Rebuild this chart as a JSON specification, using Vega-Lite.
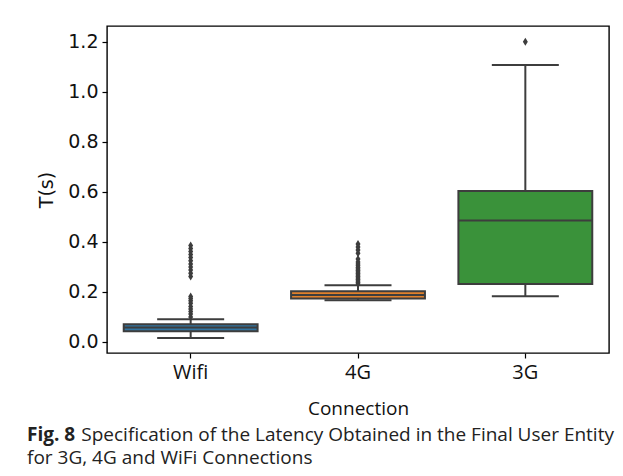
{
  "$schema": "https://vega.github.io/schema/vega-lite/v6.json",
  "width": 502,
  "height": 327,
  "autosize": {"type": "none"},
  "padding": {"left": 107, "top": 26, "right": 14, "bottom": 123},
  "background": "white",
  "title": {
    "text": "Fig. 8",
    "subtitle": [
      "\u200b\u00a0\u00a0\u00a0\u00a0\u00a0\u00a0\u00a0\u00a0\u00a0\u00a0\u00a0Specification of the Latency Obtained in the Final User Entity",
      "for 3G, 4G and WiFi Connections"
    ],
    "orient": "bottom",
    "anchor": "start",
    "frame": "group",
    "dx": -80,
    "offset": 8,
    "font": "Open Sans",
    "fontSize": 19,
    "fontWeight": "bold",
    "color": "#222222",
    "subtitleFont": "Open Sans",
    "subtitleFontSize": 19,
    "subtitleColor": "#222222",
    "subtitleLineHeight": 23,
    "subtitlePadding": -19
  },
  "datasets": {
    "stats": [
      {"conn": "Wifi", "lo": 0.016, "q1": 0.043, "median": 0.058, "q3": 0.071, "hi": 0.091},
      {"conn": "4G", "lo": 0.167, "q1": 0.174, "median": 0.188, "q3": 0.203, "hi": 0.227},
      {"conn": "3G", "lo": 0.183, "q1": 0.232, "median": 0.486, "q3": 0.604, "hi": 1.107}
    ],
    "fliers": [
      {"conn": "Wifi", "value": 0.100},
      {"conn": "Wifi", "value": 0.112},
      {"conn": "Wifi", "value": 0.122},
      {"conn": "Wifi", "value": 0.132},
      {"conn": "Wifi", "value": 0.142},
      {"conn": "Wifi", "value": 0.155},
      {"conn": "Wifi", "value": 0.165},
      {"conn": "Wifi", "value": 0.174},
      {"conn": "Wifi", "value": 0.182},
      {"conn": "Wifi", "value": 0.262},
      {"conn": "Wifi", "value": 0.275},
      {"conn": "Wifi", "value": 0.288},
      {"conn": "Wifi", "value": 0.300},
      {"conn": "Wifi", "value": 0.312},
      {"conn": "Wifi", "value": 0.325},
      {"conn": "Wifi", "value": 0.338},
      {"conn": "Wifi", "value": 0.350},
      {"conn": "Wifi", "value": 0.362},
      {"conn": "Wifi", "value": 0.374},
      {"conn": "Wifi", "value": 0.386},
      {"conn": "4G", "value": 0.232},
      {"conn": "4G", "value": 0.238},
      {"conn": "4G", "value": 0.244},
      {"conn": "4G", "value": 0.250},
      {"conn": "4G", "value": 0.256},
      {"conn": "4G", "value": 0.262},
      {"conn": "4G", "value": 0.268},
      {"conn": "4G", "value": 0.274},
      {"conn": "4G", "value": 0.280},
      {"conn": "4G", "value": 0.286},
      {"conn": "4G", "value": 0.292},
      {"conn": "4G", "value": 0.298},
      {"conn": "4G", "value": 0.305},
      {"conn": "4G", "value": 0.312},
      {"conn": "4G", "value": 0.320},
      {"conn": "4G", "value": 0.332},
      {"conn": "4G", "value": 0.355},
      {"conn": "4G", "value": 0.368},
      {"conn": "4G", "value": 0.380},
      {"conn": "4G", "value": 0.392},
      {"conn": "3G", "value": 1.200}
    ]
  },
  "encoding": {
    "x": {
      "field": "conn",
      "type": "nominal",
      "scale": {"type": "band", "domain": ["Wifi", "4G", "3G"], "paddingInner": 0, "paddingOuter": 0},
      "axis": {
        "title": "Connection",
        "labelAngle": 0,
        "labelFont": "Open Sans",
        "labelFontSize": 20,
        "labelColor": "#111111",
        "labelPadding": 4,
        "titleFont": "Open Sans",
        "titleFontSize": 19,
        "titleFontWeight": "normal",
        "titleColor": "#111111",
        "titlePadding": 17,
        "tickSize": 5,
        "tickWidth": 1.2,
        "tickColor": "#000000",
        "domain": false,
        "grid": false
      }
    }
  },
  "layer": [
    {
      "data": {"name": "stats"},
      "mark": {"type": "rule", "color": "#3d3d3d", "strokeWidth": 2},
      "encoding": {
        "y": {
          "field": "lo",
          "type": "quantitative",
          "scale": {"domain": [-0.044, 1.263], "nice": false, "zero": false},
          "axis": {
            "title": "T(s)",
            "values": [0, 0.2, 0.4, 0.6, 0.8, 1.0, 1.2],
            "format": ".1f",
            "labelFont": "DejaVu Sans",
            "labelFontSize": 19,
            "labelColor": "#111111",
            "labelPadding": 4,
            "titleFont": "DejaVu Sans",
            "titleFontSize": 19,
            "titleFontWeight": "normal",
            "titleColor": "#111111",
            "titlePadding": 11,
            "tickSize": 5,
            "tickWidth": 1.2,
            "tickColor": "#000000",
            "domain": false,
            "grid": false
          }
        },
        "y2": {"field": "hi"}
      }
    },
    {
      "data": {"name": "stats"},
      "mark": {"type": "tick", "color": "#3d3d3d", "size": 67, "thickness": 2, "opacity": 1},
      "encoding": {"y": {"field": "lo", "type": "quantitative"}}
    },
    {
      "data": {"name": "stats"},
      "mark": {"type": "tick", "color": "#3d3d3d", "size": 67, "thickness": 2, "opacity": 1},
      "encoding": {"y": {"field": "hi", "type": "quantitative"}}
    },
    {
      "data": {"name": "stats"},
      "mark": {"type": "bar", "width": {"band": 0.8}, "stroke": "#3d3d3d", "strokeWidth": 2, "opacity": 1},
      "encoding": {
        "y": {"field": "q1", "type": "quantitative"},
        "y2": {"field": "q3"},
        "color": {
          "field": "conn",
          "type": "nominal",
          "scale": {"domain": ["Wifi", "4G", "3G"], "range": ["#3274a1", "#e1812c", "#3a923a"]},
          "legend": null
        }
      }
    },
    {
      "data": {"name": "stats"},
      "mark": {"type": "tick", "color": "#3d3d3d", "size": 134, "thickness": 2, "opacity": 1},
      "encoding": {"y": {"field": "median", "type": "quantitative"}}
    },
    {
      "data": {"name": "fliers"},
      "mark": {
        "type": "point",
        "shape": "M0,-1L0.62,0L0,1L-0.62,0Z",
        "filled": true,
        "color": "#3d3d3d",
        "size": 64,
        "opacity": 1
      },
      "encoding": {"y": {"field": "value", "type": "quantitative"}}
    }
  ],
  "config": {
    "view": {"stroke": "#000000", "strokeWidth": 1.4},
    "style": {"guide-label": {"fill": "#111111"}}
  }
}
